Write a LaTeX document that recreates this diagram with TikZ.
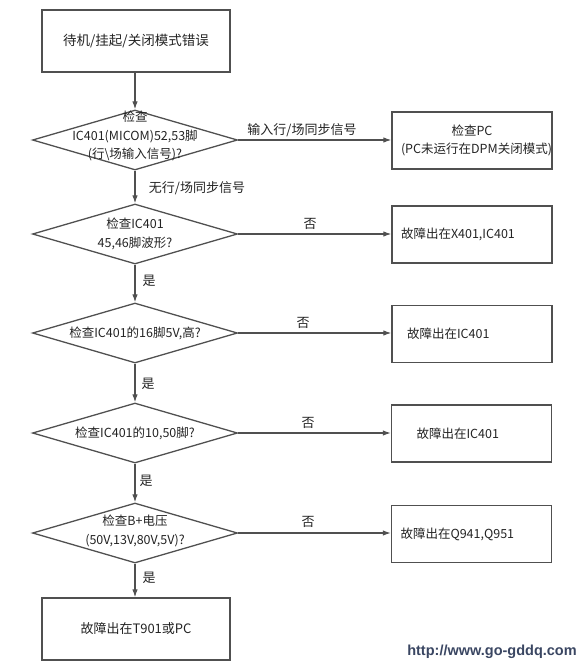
\documentclass[tikz,border=0pt]{standalone}
\usepackage{fontspec}
\setmainfont{Noto Sans CJK SC}
\newfontfamily\webfont{Liberation Sans}
\usetikzlibrary{shapes.geometric,arrows.meta}
\definecolor{linea}{RGB}{80,80,80}
\definecolor{tinta}{RGB}{35,35,35}
\definecolor{marca}{RGB}{58,70,98}
\begin{document}
\begin{tikzpicture}[x=1pt,y=-1pt,
    caja/.style={draw=linea,line width=1.3pt,minimum height=57pt,text width=142pt,
      inner xsep=9pt,align=left,text=tinta,font=\fontsize{12.5}{18}\selectfont},
    rombo/.style={diamond,draw=linea,line width=1.3pt,minimum width=205pt,
      minimum height=60pt,inner sep=0pt},
    texto/.style={align=center,inner sep=0pt,text=tinta,font=\fontsize{12.5}{18.5}\selectfont},
    etiqueta/.style={inner sep=0pt,text=tinta,font=\fontsize{13}{15}\selectfont},
    flecha/.style={draw=linea,line width=1.2pt,-{Latex[length=8pt,width=5.5pt]}}]
            \useasboundingbox (0,0) rectangle (586,667);
            % columna principal
            \node[caja,text width=170pt,minimum height=62pt,align=center,
              font=\fontsize{13.5}{16}\selectfont] (inicio) at (136,41) {待机/挂起/关闭模式错误};
            \node[rombo] (rombo1) at (135,140) {};
            \node[texto] (pregunta1) at (135,136) {检查\\IC401(MICOM)52,53脚\\(行\textbackslash 场输入信号)?};
            \node[rombo] (rombo2) at (135,234) {};
            \node[texto] (pregunta2) at (135,234) {检查IC401\\45,46脚波形?};
            \node[rombo] (rombo3) at (135,333) {};
            \node[texto] (pregunta3) at (135,333) {检查IC401的16脚5V,高?};
            \node[rombo] (rombo4) at (135,433) {};
            \node[texto] (pregunta4) at (135,433) {检查IC401的10,50脚?};
            \node[rombo] (rombo5) at (135,533) {};
            \node[texto] (pregunta5) at (135,531) {检查B+电压\\(50V,13V,80V,5V)?};
            \node[caja,text width=170pt,minimum height=62pt,align=center,
              font=\fontsize{13}{16}\selectfont] (fin) at (136,629) {故障出在T901或PC};
            % columna derecha
            \node[caja,align=center] (caja1) at (472,140.5) {检查PC\\(PC未运行在DPM关闭模式)};
            \node[caja] (caja2) at (472,234.5) {故障出在X401,IC401};
            \node[caja] (caja3) at (472,334) {\hspace*{6pt}故障出在IC401};
            \node[caja] (caja4) at (471.5,433.5) {\hspace*{16pt}故障出在IC401};
            \node[caja] (caja5) at (471.5,534) {故障出在Q941,Q951};
            % etiquetas
            \node[etiqueta] (sinc) at (302,130) {输入行/场同步信号};
            \node[etiqueta] (nosinc) at (197,188) {无行/场同步信号};
            \node[etiqueta] (no2) at (310,224) {否};
            \node[etiqueta] (no3) at (303,323) {否};
            \node[etiqueta] (no4) at (308,423) {否};
            \node[etiqueta] (no5) at (308,522) {否};
            \node[etiqueta] (si2) at (149,281) {是};
            \node[etiqueta] (si3) at (148,384) {是};
            \node[etiqueta] (si4) at (146,481) {是};
            \node[etiqueta] (si5) at (149,578) {是};
            \node[text=marca,inner sep=0pt,font=\webfont\bfseries\fontsize{14.5}{16}\selectfont] (web) at (492,652) {http://www.go-gddq.com};
            % flechas
            \draw[flecha] (inicio.south -| rombo1.north) -- (rombo1.north);
            \draw[flecha] (rombo1.south) -- (rombo2.north);
            \draw[flecha] (rombo2.south) -- (rombo3.north);
            \draw[flecha] (rombo3.south) -- (rombo4.north);
            \draw[flecha] (rombo4.south) -- (rombo5.north);
            \draw[flecha] (rombo5.south) -- (rombo5.south |- fin.north);
            \draw[flecha] (rombo1.east) -- (rombo1.east -| caja1.west);
            \draw[flecha] (rombo2.east) -- (rombo2.east -| caja2.west);
            \draw[flecha] (rombo3.east) -- (rombo3.east -| caja3.west);
            \draw[flecha] (rombo4.east) -- (rombo4.east -| caja4.west);
            \draw[flecha] (rombo5.east) -- (rombo5.east -| caja5.west);
        \end{tikzpicture}
\end{document}
